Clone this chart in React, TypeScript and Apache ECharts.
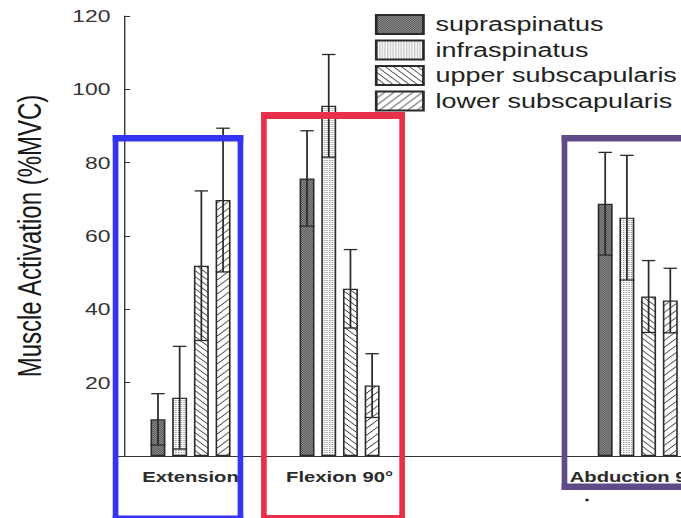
import React, { useEffect, useRef } from "react";
import * as echarts from "echarts";

// ---- data ----
const categories = ["Extension", "Flexion 90°", "", "Abduction 90°"];
const muscles = ["supraspinatus", "infraspinatus", "upper subscapularis", "lower subscapularis"];
const supraMean = [10.0, 75.7, null, 68.8];
const supraSD = [7.0, 13.0, null, 14.0];
const infraMean = [15.9, 95.5, null, 65.0];
const infraSD = [14.0, 14.0, null, 17.0];
const upperMean = [51.9, 45.6, null, 43.5];
const upperSD = [20.4, 10.7, null, 9.8];
const lowerMean = [69.8, 19.2, null, 42.4];
const lowerSD = [19.6, 8.7, null, 8.8];
const yMin = 0;
const yMax = 120;
const yInterval = 20;
const yTitle = "Muscle Activation (%MVC)";

const means = [supraMean, infraMean, upperMean, lowerMean];
const sds = [supraSD, infraSD, upperSD, lowerSD];

// ---- layout (the original figure is stretched horizontally) ----
const W = 505; // visible width before horizontal stretch
const CW = 545; // chart canvas width (the plot runs past the right edge)
const H = 518;
const SX = 681 / W;
const BAR_W = 11.1;
const GAP_RATIO = 0.45;
const FONT = "'Liberation Sans', Arial, Helvetica, sans-serif";

function makePattern(size: number, bg: string, ink: string, isInk: (x: number, y: number) => boolean) {
  const c = document.createElement("canvas");
  c.width = size;
  c.height = size;
  const ctx = c.getContext("2d")!;
  ctx.fillStyle = bg;
  ctx.fillRect(0, 0, size, size);
  ctx.fillStyle = ink;
  for (let y = 0; y < size; y++) {
    for (let x = 0; x < size; x++) {
      if (isInk(x, y)) ctx.fillRect(x, y, 1, 1);
    }
  }
  return { image: c.toDataURL(), repeat: "repeat", imageWidth: size, imageHeight: size };
}

function box(x1: number, y1: number, x2: number, y2: number, color: string, vw: number, hw: number) {
  const st = { fill: color };
  return [
    { type: "rect", shape: { x: x1, y: y1, width: x2 - x1, height: hw }, style: st, z: 100 },
    { type: "rect", shape: { x: x1, y: y2 - hw, width: x2 - x1, height: hw }, style: st, z: 100 },
    { type: "rect", shape: { x: x1, y: y1, width: vw, height: y2 - y1 }, style: st, z: 100 },
    { type: "rect", shape: { x: x2 - vw, y: y1, width: vw, height: y2 - y1 }, style: st, z: 100 },
  ];
}

export default function App() {
  const ref = useRef<HTMLDivElement>(null);
  useEffect(() => {
    if (!ref.current) return;
    const chart = echarts.init(ref.current, null, { renderer: "svg" });

    const patterns = [
      makePattern(2, "#9c9c9c", "#4a4a4a", (x, y) => (x + y) % 2 === 0),
      makePattern(2, "#ffffff", "#8a8a8a", (x, y) => x === 0 && y === 0),
      makePattern(6, "#ffffff", "#333333", (x, y) => x === y),
      makePattern(7, "#ffffff", "#333333", (x, y) => (x + y) % 7 === 6),
    ];

    const barSeries = muscles.map((name, k) => ({
      name,
      type: "bar",
      data: means[k],
      barWidth: BAR_W,
      barGap: GAP_RATIO * 100 + "%",
      itemStyle: { color: patterns[k], borderColor: "#2a2a2a", borderWidth: 1.2 },
      z: 2,
    }));

    const errData: number[][] = [];
    muscles.forEach((_, k) => {
      means[k].forEach((m, i) => {
        if (m != null && sds[k][i] != null) errData.push([i, m as number, sds[k][i] as number, k]);
      });
    });

    const total = muscles.length * BAR_W + (muscles.length - 1) * GAP_RATIO * BAR_W;
    const offsetFor = (k: number) => -total / 2 + BAR_W / 2 + k * BAR_W * (1 + GAP_RATIO);

    const errSeries = {
      name: "error",
      type: "custom",
      data: errData,
      dimensions: ["cat", "mean", "sd", "k"],
      encode: { x: 0, y: 1 },
      z: 5,
      clip: false,
      renderItem: (params: any, api: any) => {
        const cat = api.value(0);
        const mean = api.value(1);
        const sd = api.value(2);
        const k = api.value(3);
        const c = api.coord([cat, mean]);
        const top = api.coord([cat, mean + sd]);
        const bot = api.coord([cat, Math.max(0, mean - sd)]);
        const cx = c[0] + offsetFor(k);
        const st = { stroke: "#2a2a2a", lineWidth: 1.3 };
        const half = BAR_W / 2;
        const capHalf = BAR_W * 0.45;
        return {
          type: "group",
          children: [
            { type: "line", shape: { x1: cx, y1: top[1], x2: cx, y2: bot[1] }, style: st },
            { type: "line", shape: { x1: cx - capHalf, y1: top[1], x2: cx + capHalf, y2: top[1] }, style: st },
            { type: "line", shape: { x1: cx - half, y1: bot[1], x2: cx + half, y2: bot[1] }, style: st },
          ],
        };
      },
    };

    const option: any = {
      animation: false,
      backgroundColor: "#ffffff",
      grid: { left: 86, right: 16.8, top: 16, bottom: 62, containLabel: false },
      legend: {
        data: muscles,
        orient: "vertical",
        left: 273,
        top: 9,
        icon: "rect",
        itemWidth: 35,
        itemHeight: 19,
        itemGap: 4.5,
        textStyle: { fontSize: 20, color: "#222", fontFamily: FONT, padding: [0, 0, 0, 4] },
      },
      xAxis: {
        type: "category",
        data: categories,
        axisLine: { show: true, lineStyle: { color: "#333", width: 1 } },
        axisTick: { show: false },
        axisLabel: {
          interval: 0,
          fontSize: 15,
          fontWeight: "bold",
          color: "#2b2b2b",
          fontFamily: FONT,
          margin: 13,
        },
        splitLine: { show: false },
      },
      yAxis: {
        type: "value",
        min: yMin,
        max: yMax,
        interval: yInterval,
        offset: -5.95,
        name: yTitle,
        nameLocation: "middle",
        nameGap: 58,
        nameTextStyle: { fontSize: 24, color: "#1a1a1a", fontFamily: FONT },
        axisLine: { show: true, lineStyle: { color: "#333", width: 1 } },
        axisTick: { show: true, inside: true, length: 4.5, lineStyle: { color: "#333" } },
        axisLabel: {
          fontSize: 17,
          color: "#333",
          fontFamily: FONT,
          margin: 10,
          showMinLabel: false,
        },
        splitLine: { show: false },
      },
      series: [...barSeries, errSeries],
      graphic: [
        ...box(83.6, 135, 180.4, 522, "#3434f4", 4.2, 6.5),
        ...box(193.6, 112, 300.3, 522, "#e8304a", 4.2, 7),
        ...box(416.5, 135, 560, 490, "#5f4b87", 4.2, 6.5),
        { type: "circle", shape: { cx: 435.3, cy: 500, r: 1.3 }, style: { fill: "#222" }, z: 100 },
      ],
    };
    chart.setOption(option);
    return () => chart.dispose();
  }, []);
  return (
    <div
      style={{
        position: "absolute",
        left: 0,
        top: 0,
        width: W,
        height: H,
        overflow: "hidden",
        transform: `scaleX(${SX})`,
        transformOrigin: "0 0",
      }}
    >
      <div ref={ref} style={{ width: CW, height: H }} />
    </div>
  );
}
